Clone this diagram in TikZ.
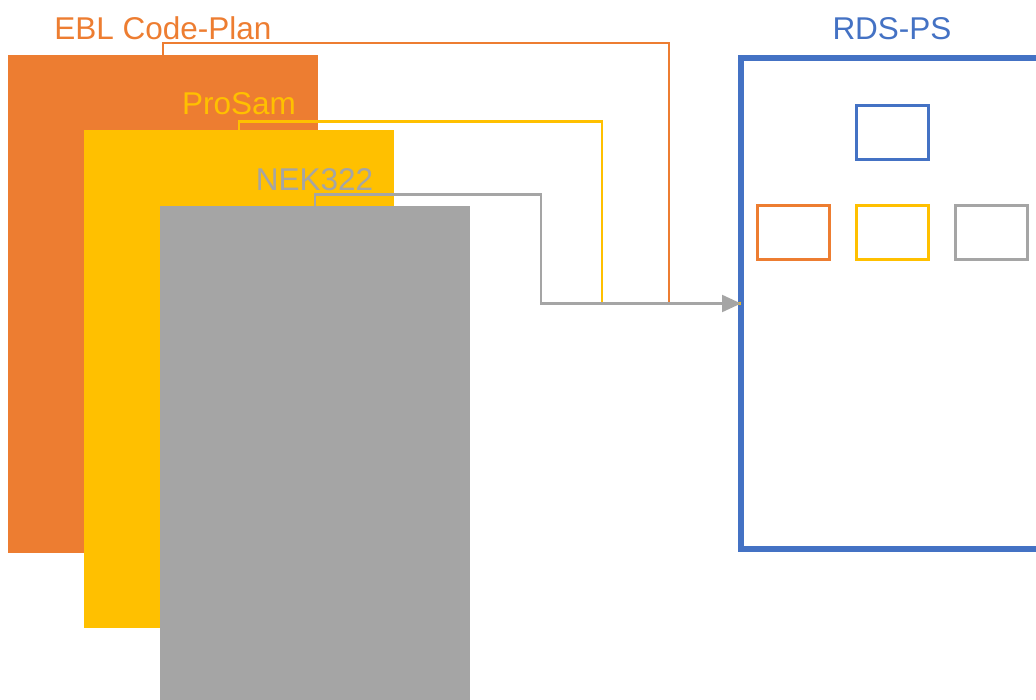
\documentclass[tikz,border=0pt]{standalone}
\usepackage{fontspec}
\setmainfont{Liberation Sans}
\usetikzlibrary{arrows.meta}
\definecolor{cOrange}{HTML}{ED7D31}
\definecolor{cYellow}{HTML}{FFC000}
\definecolor{cGray}{HTML}{A5A5A5}
\definecolor{cBlue}{HTML}{4472C4}
\begin{document}
\begin{tikzpicture}[x=1pt,y=-1pt,
  sheet/.style={fill=#1, draw=none, inner sep=0, outer sep=0, anchor=north west, minimum width=310pt, minimum height=498pt},
  lbl/.style={text=#1, font=\fontsize{31.5}{38}\selectfont, anchor=base, inner sep=0},
  link/.style={draw=#1, line width=2.2pt},
  slot/.style={draw=#1, line width=3pt, inner sep=0, outer sep=0, minimum width=72pt, minimum height=54pt, anchor=north west},
]
\useasboundingbox (0,0) rectangle (1036,700);
% sheets
\node[sheet=cOrange] (ebl) at (8,55) {};
\node[sheet=cYellow] (pro) at (84,130) {};
\node[sheet=cGray, minimum height=500pt] (nek) at (160,206) {};
% labels
\node[lbl=cOrange] (tebl) at (163,39.5) {EBL Code-Plan};
\node[lbl=cYellow] (tpro) at (239,115) {ProSam};
\node[lbl=cGray] (tnek) at (314.5,191) {NEK322};
\node[lbl=cBlue] (trds) at (892,39.5) {RDS-PS};
% RDS-PS frame
\node[draw=cBlue, line width=6pt, inner sep=0, outer sep=0, anchor=north west, minimum width=400pt, minimum height=490pt] (rds) at (741,58.5) {};
\node[slot=cBlue] (sb) at (856.5,105.5) {};
\node[slot=cOrange] (so) at (757.5,205.5) {};
\node[slot=cYellow] (sy) at (856.5,205.5) {};
\node[slot=cGray] (sg) at (955.5,205.5) {};
% connectors
\coordinate (co) at (669,43);
\coordinate (cy) at (602,121.5);
\coordinate (cg) at (541,194.5);
\draw[link=cOrange] (ebl.north) |- (co) |- (rds.west);
\draw[link=cYellow] (pro.north) |- (cy) |- (rds.west);
\draw[link=cGray, -{Triangle[length=19pt,width=17pt]}] (nek.north) |- (cg) |- (rds.west);
\end{tikzpicture}
\end{document}
